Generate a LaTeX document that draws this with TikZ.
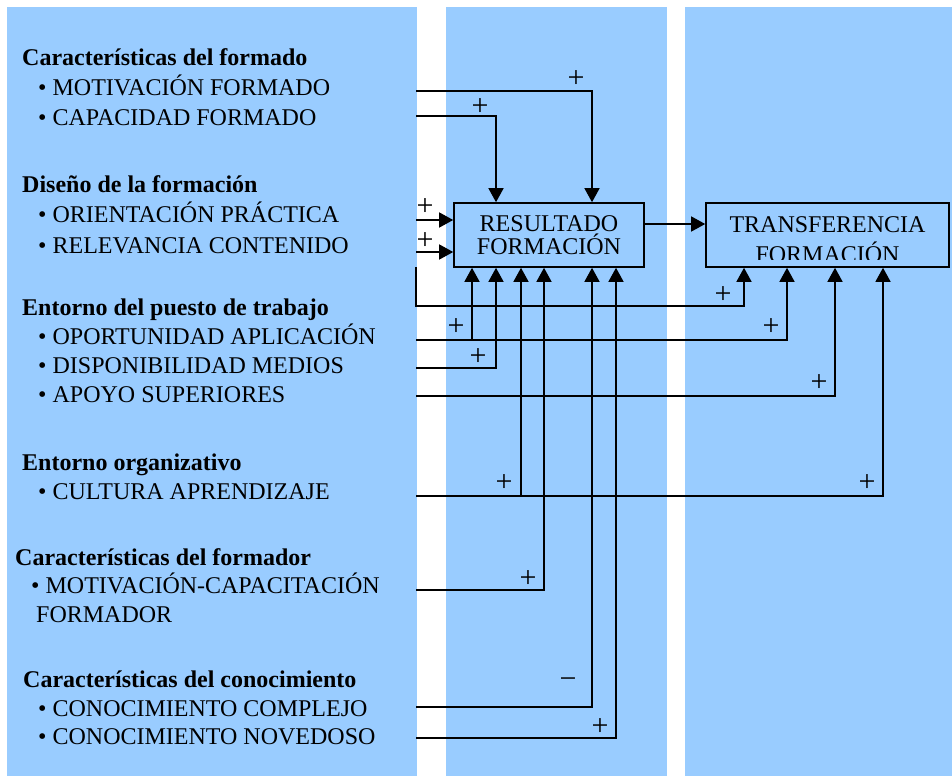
\documentclass[tikz,border=0pt]{standalone}
\usepackage{fontspec}
\setmainfont{Liberation Serif}
\usetikzlibrary{arrows.meta,calc}
\definecolor{panelBlue}{RGB}{153,204,255}
\newcommand\bigfont{\fontsize{24}{23}\selectfont}

\begin{document}
\begin{tikzpicture}[x=1pt,y=-1pt,
      font=\bigfont, >={Triangle[length=14pt,width=15pt]},
      pn/.style={fill=panelBlue},
      hd/.style={anchor=base west,inner sep=0pt,font=\bigfont\bfseries},
      it/.style={anchor=base west,inner sep=0pt},
      bx/.style={draw,line width=1.6pt,fill=panelBlue,minimum height=64pt,
                 inner sep=0pt,align=center},
      sg/.style={inner sep=0pt,font=\fontsize{30}{30}\selectfont},
      ar/.style={->,line width=1.4pt}]

    \useasboundingbox (0,0) rectangle (952,776);
    \fill[pn] (7,7) rectangle (417,776);
    \fill[pn] (446,7) rectangle (667,776);
    \fill[pn] (685,7) rectangle (952,776);

    % factors
    \node[hd] (hfo) at (22,66) {Características del formado};
    \node[it] (mfo) at (38,95) {\textbullet\ MOTIVACIÓN FORMADO};
    \node[it] (cfo) at (38,125) {\textbullet\ CAPACIDAD FORMADO};
    \node[hd] (hdi) at (22,192) {Diseño de la formación};
    \node[it] (ori) at (38,222) {\textbullet\ ORIENTACIÓN PRÁCTICA};
    \node[it] (rel) at (38,253) {\textbullet\ RELEVANCIA CONTENIDO};
    \node[hd] (hpt) at (22,315) {Entorno del puesto de trabajo};
    \node[it] (opo) at (38,344) {\textbullet\ OPORTUNIDAD APLICACIÓN};
    \node[it] (dis) at (38,373) {\textbullet\ DISPONIBILIDAD MEDIOS};
    \node[it] (apo) at (38,402) {\textbullet\ APOYO SUPERIORES};
    \node[hd] (hor) at (22,470) {Entorno organizativo};
    \node[it] (cul) at (38,499) {\textbullet\ CULTURA APRENDIZAJE};
    \node[hd] (hfr) at (15,565) {Características del formador};
    \node[it] (mca) at (31,593) {\textbullet\ MOTIVACIÓN-CAPACITACIÓN};
    \node[it] (fdr) at (36,622) {FORMADOR};
    \node[hd] (hco) at (23,687) {Características del conocimiento};
    \node[it] (cco) at (38,716) {\textbullet\ CONOCIMIENTO COMPLEJO};
    \node[it] (cno) at (38,744) {\textbullet\ CONOCIMIENTO NOVEDOSO};

    % outcomes
    \node[bx,minimum width=190pt] (res) at (549,235) {RESULTADO\\FORMACIÓN};
    \node[bx,minimum width=243pt] (tra) at (827.5,235) {};
    \begin{scope}
      \clip ([yshift=8pt]tra.south west) rectangle (tra.north east);
      \node[inner sep=0pt,align=center,anchor=north,font=\fontsize{24}{30}\selectfont]
        (tratx) at (827.5,216) {TRANSFERENCIA\\FORMACIÓN};
    \end{scope}

    \coordinate (n1) at ([xshift=-53pt]res.north);
    \coordinate (n2) at ([xshift=43pt]res.north);
    \coordinate (r1) at ([xshift=-77pt]res.south);
    \coordinate (r2) at ([xshift=-53pt]res.south);
    \coordinate (r3) at ([xshift=-28pt]res.south);
    \coordinate (r4) at ([xshift=-5pt]res.south);
    \coordinate (r5) at ([xshift=43pt]res.south);
    \coordinate (r6) at ([xshift=67pt]res.south);
    \coordinate (t1) at ([xshift=-83.5pt]tra.south);
    \coordinate (t2) at ([xshift=-40.5pt]tra.south);
    \coordinate (t3) at ([xshift=7.5pt]tra.south);
    \coordinate (t4) at ([xshift=55.5pt]tra.south);

    \coordinate (mfoL) at (416,91);
    \coordinate (cfoL) at (416,116);
    \coordinate (oriL) at (416,220);
    \coordinate (relL) at (416,252);
    \coordinate (dsnL) at (416,267);
    \coordinate (opoL) at (416,340);
    \coordinate (disL) at (416,368);
    \coordinate (apoL) at (416,396);
    \coordinate (culL) at (416,496);
    \coordinate (mcaL) at (416,590);
    \coordinate (ccoL) at (416,707);
    \coordinate (cnoL) at (416,738);

    \draw[ar] (mfoL) -| (n2);
    \draw[ar] (cfoL) -| (n1);
    \draw[ar] (oriL) -- (oriL -| res.west);
    \draw[ar] (relL) -- (relL -| res.west);
    \draw[ar] (dsnL) -- ++(0,39) -| (t1);
    \draw[ar] (opoL) -| (t2);
    \draw[ar] (r1 |- opoL) -- (r1);
    \draw[ar] (disL) -| (r2);
    \draw[ar] (apoL) -| (t3);
    \draw[ar] (culL) -| (t4);
    \draw[ar] (r3 |- culL) -- (r3);
    \draw[ar] (mcaL) -| (r4);
    \draw[ar] (ccoL) -| (r5);
    \draw[ar] (cnoL) -| (r6);
    \draw[ar] ([yshift=11pt]res.east) -- ([yshift=11pt]res.east -| tra.west);

    % signs
    \node[sg] (s1) at (576,79) {+};
    \node[sg] (s2) at (480,107) {+};
    \node[sg] (s3) at (425,207) {+};
    \node[sg] (s4) at (425,241) {+};
    \node[sg] (s5) at (723,295) {+};
    \node[sg] (s6) at (456,327) {+};
    \node[sg] (s7) at (771,327) {+};
    \node[sg] (s8) at (478,357) {+};
    \node[sg] (s9) at (819,383) {+};
    \node[sg] (s10) at (504,483) {+};
    \node[sg] (s11) at (867,483) {+};
    \node[sg] (s12) at (528,579) {+};
    \node[sg] (s13) at (568,683) {−};
    \node[sg] (s14) at (600,727) {+};
\end{tikzpicture}
\end{document}
